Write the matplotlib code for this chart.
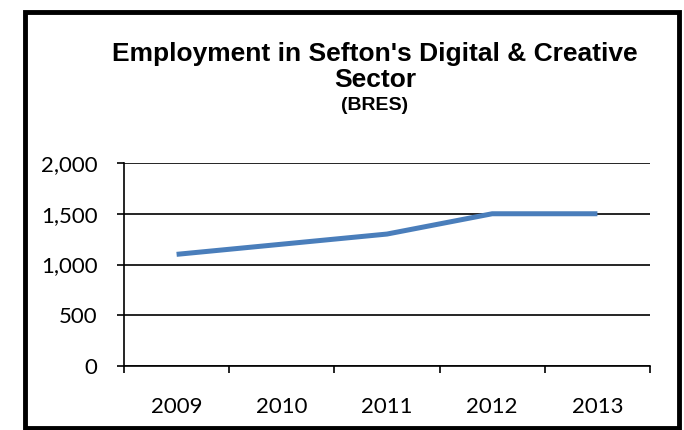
import numpy as np
import matplotlib.pyplot as plt
from matplotlib.patches import Rectangle

# dados do gráfico
anos = ['2009', '2010', '2011', '2012', '2013']
empregos = [1100, 1200, 1300, 1500, 1500]
y_ticks = [0, 500, 1000, 1500, 2000]

fig = plt.figure(figsize=(6.84, 4.30), dpi=100)
ax = fig.add_axes([124/684, 1 - 366/430, 526/684, 203/430])

x = np.arange(len(anos)) + 0.5
ax.plot(x, empregos, color='#4A7EBB', lw=3.6, solid_capstyle='butt', zorder=3)

ax.set_xlim(0, len(anos))
ax.set_ylim(0, 2000)

# eixo y com linhas de grade
ax.set_yticks(y_ticks)
ax.set_yticklabels([f'{v:,}' for v in y_ticks], fontfamily='Lato', fontsize=16)
ax.yaxis.grid(True, color='black', lw=1.2)
ax.tick_params(axis='y', length=5, width=1.2, pad=14, direction='out')

# eixo x: marcas nas divisas, rótulos no meio
ax.set_xticks(np.arange(len(anos) + 1))
ax.set_xticklabels([])
ax.set_xticks(x, minor=True)
ax.set_xticklabels(anos, minor=True, fontfamily='Lato', fontsize=16)
ax.tick_params(axis='x', which='major', length=5, width=1.2, direction='out')
ax.tick_params(axis='x', which='minor', length=0, pad=22)

for lado in ['top', 'right']:
    ax.spines[lado].set_visible(False)
for lado in ['left', 'bottom']:
    ax.spines[lado].set_linewidth(1.2)
ax.set_axisbelow(True)

# título
fig.text(375/684, 1 - 42/430, "Employment in Sefton's Digital & Creative\nSector",
         ha='center', va='top', fontfamily='Liberation Sans', fontweight='bold',
         fontsize=19, linespacing=1.12)
fig.text(375/684, 1 - 105/430, '(BRES)', ha='center', va='center',
         fontfamily='Liberation Sans', fontweight='bold', fontsize=14)

# moldura
fig.patches.append(Rectangle((25/684, 2/430), 654/684, 416/430, transform=fig.transFigure,
                             fill=False, edgecolor='black', lw=3.5))

fig.savefig('out.png', dpi=100)
